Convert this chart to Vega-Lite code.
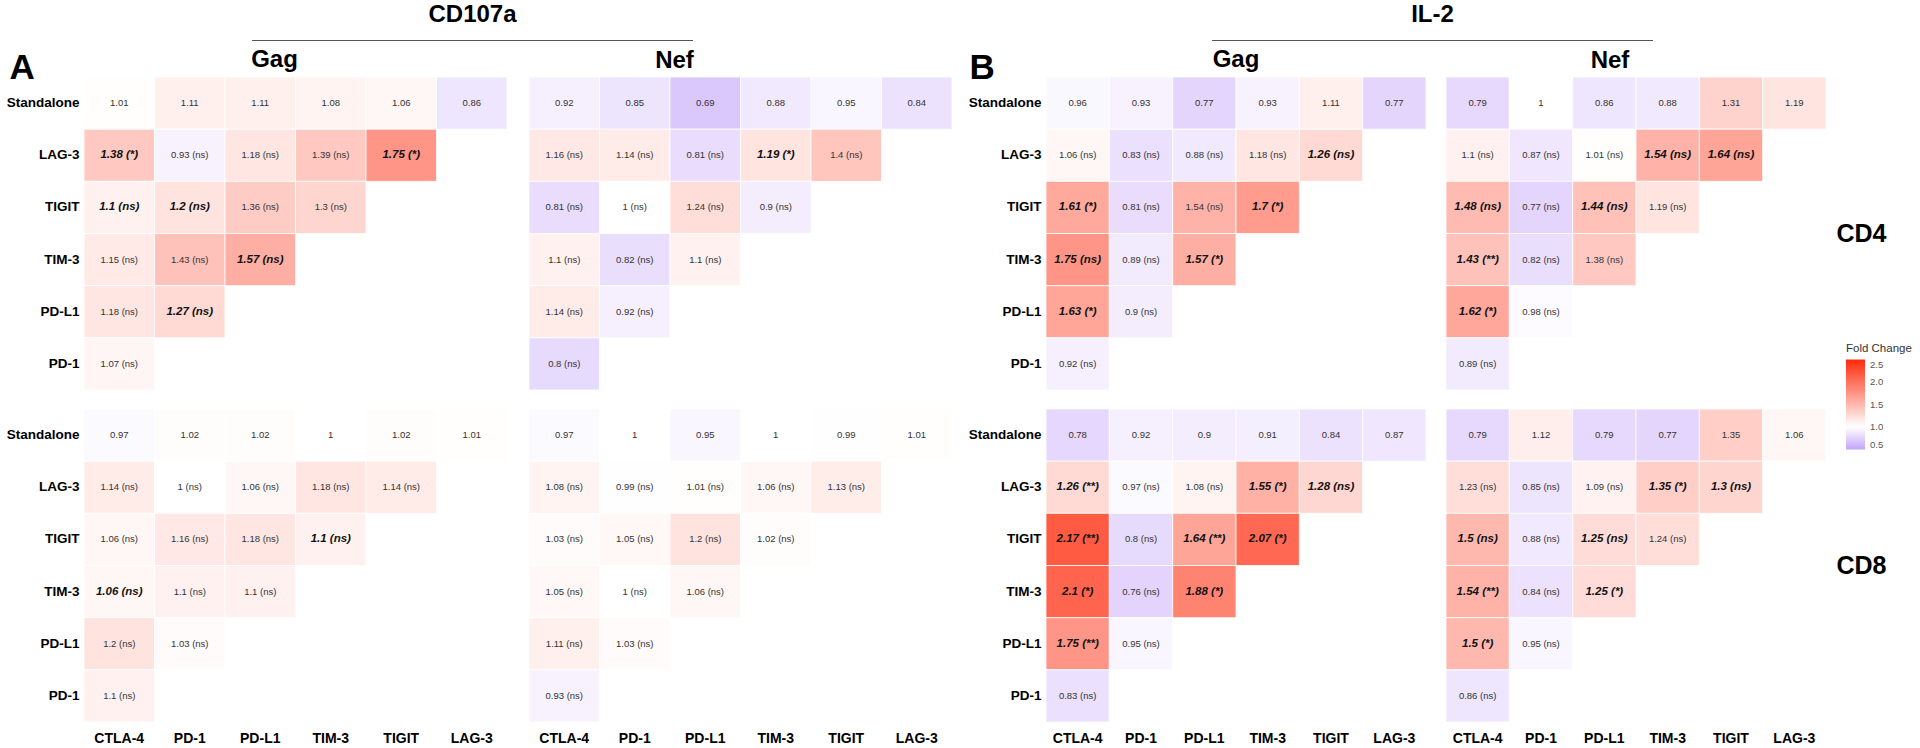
{
"$schema": "https://vega.github.io/schema/vega-lite/v6.json",
"padding": {"left": 6, "top": 2, "right": 5, "bottom": 0},
"background": "white",
"datasets": {"fc": [
{"readout":"CD107a","antigen":"Gag","subset":"CD4","row":"Standalone","col":"CTLA-4","fc":1.01,"label":"1.01","hl":false},
{"readout":"CD107a","antigen":"Gag","subset":"CD4","row":"Standalone","col":"PD-1","fc":1.11,"label":"1.11","hl":false},
{"readout":"CD107a","antigen":"Gag","subset":"CD4","row":"Standalone","col":"PD-L1","fc":1.11,"label":"1.11","hl":false},
{"readout":"CD107a","antigen":"Gag","subset":"CD4","row":"Standalone","col":"TIM-3","fc":1.08,"label":"1.08","hl":false},
{"readout":"CD107a","antigen":"Gag","subset":"CD4","row":"Standalone","col":"TIGIT","fc":1.06,"label":"1.06","hl":false},
{"readout":"CD107a","antigen":"Gag","subset":"CD4","row":"Standalone","col":"LAG-3","fc":0.86,"label":"0.86","hl":false},
{"readout":"CD107a","antigen":"Gag","subset":"CD4","row":"LAG-3","col":"CTLA-4","fc":1.38,"label":"1.38 (*)","hl":true},
{"readout":"CD107a","antigen":"Gag","subset":"CD4","row":"LAG-3","col":"PD-1","fc":0.93,"label":"0.93 (ns)","hl":false},
{"readout":"CD107a","antigen":"Gag","subset":"CD4","row":"LAG-3","col":"PD-L1","fc":1.18,"label":"1.18 (ns)","hl":false},
{"readout":"CD107a","antigen":"Gag","subset":"CD4","row":"LAG-3","col":"TIM-3","fc":1.39,"label":"1.39 (ns)","hl":false},
{"readout":"CD107a","antigen":"Gag","subset":"CD4","row":"LAG-3","col":"TIGIT","fc":1.75,"label":"1.75 (*)","hl":true},
{"readout":"CD107a","antigen":"Gag","subset":"CD4","row":"TIGIT","col":"CTLA-4","fc":1.1,"label":"1.1 (ns)","hl":true},
{"readout":"CD107a","antigen":"Gag","subset":"CD4","row":"TIGIT","col":"PD-1","fc":1.2,"label":"1.2 (ns)","hl":true},
{"readout":"CD107a","antigen":"Gag","subset":"CD4","row":"TIGIT","col":"PD-L1","fc":1.36,"label":"1.36 (ns)","hl":false},
{"readout":"CD107a","antigen":"Gag","subset":"CD4","row":"TIGIT","col":"TIM-3","fc":1.3,"label":"1.3 (ns)","hl":false},
{"readout":"CD107a","antigen":"Gag","subset":"CD4","row":"TIM-3","col":"CTLA-4","fc":1.15,"label":"1.15 (ns)","hl":false},
{"readout":"CD107a","antigen":"Gag","subset":"CD4","row":"TIM-3","col":"PD-1","fc":1.43,"label":"1.43 (ns)","hl":false},
{"readout":"CD107a","antigen":"Gag","subset":"CD4","row":"TIM-3","col":"PD-L1","fc":1.57,"label":"1.57 (ns)","hl":true},
{"readout":"CD107a","antigen":"Gag","subset":"CD4","row":"PD-L1","col":"CTLA-4","fc":1.18,"label":"1.18 (ns)","hl":false},
{"readout":"CD107a","antigen":"Gag","subset":"CD4","row":"PD-L1","col":"PD-1","fc":1.27,"label":"1.27 (ns)","hl":true},
{"readout":"CD107a","antigen":"Gag","subset":"CD4","row":"PD-1","col":"CTLA-4","fc":1.07,"label":"1.07 (ns)","hl":false},
{"readout":"CD107a","antigen":"Nef","subset":"CD4","row":"Standalone","col":"CTLA-4","fc":0.92,"label":"0.92","hl":false},
{"readout":"CD107a","antigen":"Nef","subset":"CD4","row":"Standalone","col":"PD-1","fc":0.85,"label":"0.85","hl":false},
{"readout":"CD107a","antigen":"Nef","subset":"CD4","row":"Standalone","col":"PD-L1","fc":0.69,"label":"0.69","hl":false},
{"readout":"CD107a","antigen":"Nef","subset":"CD4","row":"Standalone","col":"TIM-3","fc":0.88,"label":"0.88","hl":false},
{"readout":"CD107a","antigen":"Nef","subset":"CD4","row":"Standalone","col":"TIGIT","fc":0.95,"label":"0.95","hl":false},
{"readout":"CD107a","antigen":"Nef","subset":"CD4","row":"Standalone","col":"LAG-3","fc":0.84,"label":"0.84","hl":false},
{"readout":"CD107a","antigen":"Nef","subset":"CD4","row":"LAG-3","col":"CTLA-4","fc":1.16,"label":"1.16 (ns)","hl":false},
{"readout":"CD107a","antigen":"Nef","subset":"CD4","row":"LAG-3","col":"PD-1","fc":1.14,"label":"1.14 (ns)","hl":false},
{"readout":"CD107a","antigen":"Nef","subset":"CD4","row":"LAG-3","col":"PD-L1","fc":0.81,"label":"0.81 (ns)","hl":false},
{"readout":"CD107a","antigen":"Nef","subset":"CD4","row":"LAG-3","col":"TIM-3","fc":1.19,"label":"1.19 (*)","hl":true},
{"readout":"CD107a","antigen":"Nef","subset":"CD4","row":"LAG-3","col":"TIGIT","fc":1.4,"label":"1.4 (ns)","hl":false},
{"readout":"CD107a","antigen":"Nef","subset":"CD4","row":"TIGIT","col":"CTLA-4","fc":0.81,"label":"0.81 (ns)","hl":false},
{"readout":"CD107a","antigen":"Nef","subset":"CD4","row":"TIGIT","col":"PD-1","fc":1.0,"label":"1 (ns)","hl":false},
{"readout":"CD107a","antigen":"Nef","subset":"CD4","row":"TIGIT","col":"PD-L1","fc":1.24,"label":"1.24 (ns)","hl":false},
{"readout":"CD107a","antigen":"Nef","subset":"CD4","row":"TIGIT","col":"TIM-3","fc":0.9,"label":"0.9 (ns)","hl":false},
{"readout":"CD107a","antigen":"Nef","subset":"CD4","row":"TIM-3","col":"CTLA-4","fc":1.1,"label":"1.1 (ns)","hl":false},
{"readout":"CD107a","antigen":"Nef","subset":"CD4","row":"TIM-3","col":"PD-1","fc":0.82,"label":"0.82 (ns)","hl":false},
{"readout":"CD107a","antigen":"Nef","subset":"CD4","row":"TIM-3","col":"PD-L1","fc":1.1,"label":"1.1 (ns)","hl":false},
{"readout":"CD107a","antigen":"Nef","subset":"CD4","row":"PD-L1","col":"CTLA-4","fc":1.14,"label":"1.14 (ns)","hl":false},
{"readout":"CD107a","antigen":"Nef","subset":"CD4","row":"PD-L1","col":"PD-1","fc":0.92,"label":"0.92 (ns)","hl":false},
{"readout":"CD107a","antigen":"Nef","subset":"CD4","row":"PD-1","col":"CTLA-4","fc":0.8,"label":"0.8 (ns)","hl":false},
{"readout":"IL-2","antigen":"Gag","subset":"CD4","row":"Standalone","col":"CTLA-4","fc":0.96,"label":"0.96","hl":false},
{"readout":"IL-2","antigen":"Gag","subset":"CD4","row":"Standalone","col":"PD-1","fc":0.93,"label":"0.93","hl":false},
{"readout":"IL-2","antigen":"Gag","subset":"CD4","row":"Standalone","col":"PD-L1","fc":0.77,"label":"0.77","hl":false},
{"readout":"IL-2","antigen":"Gag","subset":"CD4","row":"Standalone","col":"TIM-3","fc":0.93,"label":"0.93","hl":false},
{"readout":"IL-2","antigen":"Gag","subset":"CD4","row":"Standalone","col":"TIGIT","fc":1.11,"label":"1.11","hl":false},
{"readout":"IL-2","antigen":"Gag","subset":"CD4","row":"Standalone","col":"LAG-3","fc":0.77,"label":"0.77","hl":false},
{"readout":"IL-2","antigen":"Gag","subset":"CD4","row":"LAG-3","col":"CTLA-4","fc":1.06,"label":"1.06 (ns)","hl":false},
{"readout":"IL-2","antigen":"Gag","subset":"CD4","row":"LAG-3","col":"PD-1","fc":0.83,"label":"0.83 (ns)","hl":false},
{"readout":"IL-2","antigen":"Gag","subset":"CD4","row":"LAG-3","col":"PD-L1","fc":0.88,"label":"0.88 (ns)","hl":false},
{"readout":"IL-2","antigen":"Gag","subset":"CD4","row":"LAG-3","col":"TIM-3","fc":1.18,"label":"1.18 (ns)","hl":false},
{"readout":"IL-2","antigen":"Gag","subset":"CD4","row":"LAG-3","col":"TIGIT","fc":1.26,"label":"1.26 (ns)","hl":true},
{"readout":"IL-2","antigen":"Gag","subset":"CD4","row":"TIGIT","col":"CTLA-4","fc":1.61,"label":"1.61 (*)","hl":true},
{"readout":"IL-2","antigen":"Gag","subset":"CD4","row":"TIGIT","col":"PD-1","fc":0.81,"label":"0.81 (ns)","hl":false},
{"readout":"IL-2","antigen":"Gag","subset":"CD4","row":"TIGIT","col":"PD-L1","fc":1.54,"label":"1.54 (ns)","hl":false},
{"readout":"IL-2","antigen":"Gag","subset":"CD4","row":"TIGIT","col":"TIM-3","fc":1.7,"label":"1.7 (*)","hl":true},
{"readout":"IL-2","antigen":"Gag","subset":"CD4","row":"TIM-3","col":"CTLA-4","fc":1.75,"label":"1.75 (ns)","hl":true},
{"readout":"IL-2","antigen":"Gag","subset":"CD4","row":"TIM-3","col":"PD-1","fc":0.89,"label":"0.89 (ns)","hl":false},
{"readout":"IL-2","antigen":"Gag","subset":"CD4","row":"TIM-3","col":"PD-L1","fc":1.57,"label":"1.57 (*)","hl":true},
{"readout":"IL-2","antigen":"Gag","subset":"CD4","row":"PD-L1","col":"CTLA-4","fc":1.63,"label":"1.63 (*)","hl":true},
{"readout":"IL-2","antigen":"Gag","subset":"CD4","row":"PD-L1","col":"PD-1","fc":0.9,"label":"0.9 (ns)","hl":false},
{"readout":"IL-2","antigen":"Gag","subset":"CD4","row":"PD-1","col":"CTLA-4","fc":0.92,"label":"0.92 (ns)","hl":false},
{"readout":"IL-2","antigen":"Nef","subset":"CD4","row":"Standalone","col":"CTLA-4","fc":0.79,"label":"0.79","hl":false},
{"readout":"IL-2","antigen":"Nef","subset":"CD4","row":"Standalone","col":"PD-1","fc":1.0,"label":"1","hl":false},
{"readout":"IL-2","antigen":"Nef","subset":"CD4","row":"Standalone","col":"PD-L1","fc":0.86,"label":"0.86","hl":false},
{"readout":"IL-2","antigen":"Nef","subset":"CD4","row":"Standalone","col":"TIM-3","fc":0.88,"label":"0.88","hl":false},
{"readout":"IL-2","antigen":"Nef","subset":"CD4","row":"Standalone","col":"TIGIT","fc":1.31,"label":"1.31","hl":false},
{"readout":"IL-2","antigen":"Nef","subset":"CD4","row":"Standalone","col":"LAG-3","fc":1.19,"label":"1.19","hl":false},
{"readout":"IL-2","antigen":"Nef","subset":"CD4","row":"LAG-3","col":"CTLA-4","fc":1.1,"label":"1.1 (ns)","hl":false},
{"readout":"IL-2","antigen":"Nef","subset":"CD4","row":"LAG-3","col":"PD-1","fc":0.87,"label":"0.87 (ns)","hl":false},
{"readout":"IL-2","antigen":"Nef","subset":"CD4","row":"LAG-3","col":"PD-L1","fc":1.01,"label":"1.01 (ns)","hl":false},
{"readout":"IL-2","antigen":"Nef","subset":"CD4","row":"LAG-3","col":"TIM-3","fc":1.54,"label":"1.54 (ns)","hl":true},
{"readout":"IL-2","antigen":"Nef","subset":"CD4","row":"LAG-3","col":"TIGIT","fc":1.64,"label":"1.64 (ns)","hl":true},
{"readout":"IL-2","antigen":"Nef","subset":"CD4","row":"TIGIT","col":"CTLA-4","fc":1.48,"label":"1.48 (ns)","hl":true},
{"readout":"IL-2","antigen":"Nef","subset":"CD4","row":"TIGIT","col":"PD-1","fc":0.77,"label":"0.77 (ns)","hl":false},
{"readout":"IL-2","antigen":"Nef","subset":"CD4","row":"TIGIT","col":"PD-L1","fc":1.44,"label":"1.44 (ns)","hl":true},
{"readout":"IL-2","antigen":"Nef","subset":"CD4","row":"TIGIT","col":"TIM-3","fc":1.19,"label":"1.19 (ns)","hl":false},
{"readout":"IL-2","antigen":"Nef","subset":"CD4","row":"TIM-3","col":"CTLA-4","fc":1.43,"label":"1.43 (**)","hl":true},
{"readout":"IL-2","antigen":"Nef","subset":"CD4","row":"TIM-3","col":"PD-1","fc":0.82,"label":"0.82 (ns)","hl":false},
{"readout":"IL-2","antigen":"Nef","subset":"CD4","row":"TIM-3","col":"PD-L1","fc":1.38,"label":"1.38 (ns)","hl":false},
{"readout":"IL-2","antigen":"Nef","subset":"CD4","row":"PD-L1","col":"CTLA-4","fc":1.62,"label":"1.62 (*)","hl":true},
{"readout":"IL-2","antigen":"Nef","subset":"CD4","row":"PD-L1","col":"PD-1","fc":0.98,"label":"0.98 (ns)","hl":false},
{"readout":"IL-2","antigen":"Nef","subset":"CD4","row":"PD-1","col":"CTLA-4","fc":0.89,"label":"0.89 (ns)","hl":false},
{"readout":"CD107a","antigen":"Gag","subset":"CD8","row":"Standalone","col":"CTLA-4","fc":0.97,"label":"0.97","hl":false},
{"readout":"CD107a","antigen":"Gag","subset":"CD8","row":"Standalone","col":"PD-1","fc":1.02,"label":"1.02","hl":false},
{"readout":"CD107a","antigen":"Gag","subset":"CD8","row":"Standalone","col":"PD-L1","fc":1.02,"label":"1.02","hl":false},
{"readout":"CD107a","antigen":"Gag","subset":"CD8","row":"Standalone","col":"TIM-3","fc":1.0,"label":"1","hl":false},
{"readout":"CD107a","antigen":"Gag","subset":"CD8","row":"Standalone","col":"TIGIT","fc":1.02,"label":"1.02","hl":false},
{"readout":"CD107a","antigen":"Gag","subset":"CD8","row":"Standalone","col":"LAG-3","fc":1.01,"label":"1.01","hl":false},
{"readout":"CD107a","antigen":"Gag","subset":"CD8","row":"LAG-3","col":"CTLA-4","fc":1.14,"label":"1.14 (ns)","hl":false},
{"readout":"CD107a","antigen":"Gag","subset":"CD8","row":"LAG-3","col":"PD-1","fc":1.0,"label":"1 (ns)","hl":false},
{"readout":"CD107a","antigen":"Gag","subset":"CD8","row":"LAG-3","col":"PD-L1","fc":1.06,"label":"1.06 (ns)","hl":false},
{"readout":"CD107a","antigen":"Gag","subset":"CD8","row":"LAG-3","col":"TIM-3","fc":1.18,"label":"1.18 (ns)","hl":false},
{"readout":"CD107a","antigen":"Gag","subset":"CD8","row":"LAG-3","col":"TIGIT","fc":1.14,"label":"1.14 (ns)","hl":false},
{"readout":"CD107a","antigen":"Gag","subset":"CD8","row":"TIGIT","col":"CTLA-4","fc":1.06,"label":"1.06 (ns)","hl":false},
{"readout":"CD107a","antigen":"Gag","subset":"CD8","row":"TIGIT","col":"PD-1","fc":1.16,"label":"1.16 (ns)","hl":false},
{"readout":"CD107a","antigen":"Gag","subset":"CD8","row":"TIGIT","col":"PD-L1","fc":1.18,"label":"1.18 (ns)","hl":false},
{"readout":"CD107a","antigen":"Gag","subset":"CD8","row":"TIGIT","col":"TIM-3","fc":1.1,"label":"1.1 (ns)","hl":true},
{"readout":"CD107a","antigen":"Gag","subset":"CD8","row":"TIM-3","col":"CTLA-4","fc":1.06,"label":"1.06 (ns)","hl":true},
{"readout":"CD107a","antigen":"Gag","subset":"CD8","row":"TIM-3","col":"PD-1","fc":1.1,"label":"1.1 (ns)","hl":false},
{"readout":"CD107a","antigen":"Gag","subset":"CD8","row":"TIM-3","col":"PD-L1","fc":1.1,"label":"1.1 (ns)","hl":false},
{"readout":"CD107a","antigen":"Gag","subset":"CD8","row":"PD-L1","col":"CTLA-4","fc":1.2,"label":"1.2 (ns)","hl":false},
{"readout":"CD107a","antigen":"Gag","subset":"CD8","row":"PD-L1","col":"PD-1","fc":1.03,"label":"1.03 (ns)","hl":false},
{"readout":"CD107a","antigen":"Gag","subset":"CD8","row":"PD-1","col":"CTLA-4","fc":1.1,"label":"1.1 (ns)","hl":false},
{"readout":"CD107a","antigen":"Nef","subset":"CD8","row":"Standalone","col":"CTLA-4","fc":0.97,"label":"0.97","hl":false},
{"readout":"CD107a","antigen":"Nef","subset":"CD8","row":"Standalone","col":"PD-1","fc":1.0,"label":"1","hl":false},
{"readout":"CD107a","antigen":"Nef","subset":"CD8","row":"Standalone","col":"PD-L1","fc":0.95,"label":"0.95","hl":false},
{"readout":"CD107a","antigen":"Nef","subset":"CD8","row":"Standalone","col":"TIM-3","fc":1.0,"label":"1","hl":false},
{"readout":"CD107a","antigen":"Nef","subset":"CD8","row":"Standalone","col":"TIGIT","fc":0.99,"label":"0.99","hl":false},
{"readout":"CD107a","antigen":"Nef","subset":"CD8","row":"Standalone","col":"LAG-3","fc":1.01,"label":"1.01","hl":false},
{"readout":"CD107a","antigen":"Nef","subset":"CD8","row":"LAG-3","col":"CTLA-4","fc":1.08,"label":"1.08 (ns)","hl":false},
{"readout":"CD107a","antigen":"Nef","subset":"CD8","row":"LAG-3","col":"PD-1","fc":0.99,"label":"0.99 (ns)","hl":false},
{"readout":"CD107a","antigen":"Nef","subset":"CD8","row":"LAG-3","col":"PD-L1","fc":1.01,"label":"1.01 (ns)","hl":false},
{"readout":"CD107a","antigen":"Nef","subset":"CD8","row":"LAG-3","col":"TIM-3","fc":1.06,"label":"1.06 (ns)","hl":false},
{"readout":"CD107a","antigen":"Nef","subset":"CD8","row":"LAG-3","col":"TIGIT","fc":1.13,"label":"1.13 (ns)","hl":false},
{"readout":"CD107a","antigen":"Nef","subset":"CD8","row":"TIGIT","col":"CTLA-4","fc":1.03,"label":"1.03 (ns)","hl":false},
{"readout":"CD107a","antigen":"Nef","subset":"CD8","row":"TIGIT","col":"PD-1","fc":1.05,"label":"1.05 (ns)","hl":false},
{"readout":"CD107a","antigen":"Nef","subset":"CD8","row":"TIGIT","col":"PD-L1","fc":1.2,"label":"1.2 (ns)","hl":false},
{"readout":"CD107a","antigen":"Nef","subset":"CD8","row":"TIGIT","col":"TIM-3","fc":1.02,"label":"1.02 (ns)","hl":false},
{"readout":"CD107a","antigen":"Nef","subset":"CD8","row":"TIM-3","col":"CTLA-4","fc":1.05,"label":"1.05 (ns)","hl":false},
{"readout":"CD107a","antigen":"Nef","subset":"CD8","row":"TIM-3","col":"PD-1","fc":1.0,"label":"1 (ns)","hl":false},
{"readout":"CD107a","antigen":"Nef","subset":"CD8","row":"TIM-3","col":"PD-L1","fc":1.06,"label":"1.06 (ns)","hl":false},
{"readout":"CD107a","antigen":"Nef","subset":"CD8","row":"PD-L1","col":"CTLA-4","fc":1.11,"label":"1.11 (ns)","hl":false},
{"readout":"CD107a","antigen":"Nef","subset":"CD8","row":"PD-L1","col":"PD-1","fc":1.03,"label":"1.03 (ns)","hl":false},
{"readout":"CD107a","antigen":"Nef","subset":"CD8","row":"PD-1","col":"CTLA-4","fc":0.93,"label":"0.93 (ns)","hl":false},
{"readout":"IL-2","antigen":"Gag","subset":"CD8","row":"Standalone","col":"CTLA-4","fc":0.78,"label":"0.78","hl":false},
{"readout":"IL-2","antigen":"Gag","subset":"CD8","row":"Standalone","col":"PD-1","fc":0.92,"label":"0.92","hl":false},
{"readout":"IL-2","antigen":"Gag","subset":"CD8","row":"Standalone","col":"PD-L1","fc":0.9,"label":"0.9","hl":false},
{"readout":"IL-2","antigen":"Gag","subset":"CD8","row":"Standalone","col":"TIM-3","fc":0.91,"label":"0.91","hl":false},
{"readout":"IL-2","antigen":"Gag","subset":"CD8","row":"Standalone","col":"TIGIT","fc":0.84,"label":"0.84","hl":false},
{"readout":"IL-2","antigen":"Gag","subset":"CD8","row":"Standalone","col":"LAG-3","fc":0.87,"label":"0.87","hl":false},
{"readout":"IL-2","antigen":"Gag","subset":"CD8","row":"LAG-3","col":"CTLA-4","fc":1.26,"label":"1.26 (**)","hl":true},
{"readout":"IL-2","antigen":"Gag","subset":"CD8","row":"LAG-3","col":"PD-1","fc":0.97,"label":"0.97 (ns)","hl":false},
{"readout":"IL-2","antigen":"Gag","subset":"CD8","row":"LAG-3","col":"PD-L1","fc":1.08,"label":"1.08 (ns)","hl":false},
{"readout":"IL-2","antigen":"Gag","subset":"CD8","row":"LAG-3","col":"TIM-3","fc":1.55,"label":"1.55 (*)","hl":true},
{"readout":"IL-2","antigen":"Gag","subset":"CD8","row":"LAG-3","col":"TIGIT","fc":1.28,"label":"1.28 (ns)","hl":true},
{"readout":"IL-2","antigen":"Gag","subset":"CD8","row":"TIGIT","col":"CTLA-4","fc":2.17,"label":"2.17 (**)","hl":true},
{"readout":"IL-2","antigen":"Gag","subset":"CD8","row":"TIGIT","col":"PD-1","fc":0.8,"label":"0.8 (ns)","hl":false},
{"readout":"IL-2","antigen":"Gag","subset":"CD8","row":"TIGIT","col":"PD-L1","fc":1.64,"label":"1.64 (**)","hl":true},
{"readout":"IL-2","antigen":"Gag","subset":"CD8","row":"TIGIT","col":"TIM-3","fc":2.07,"label":"2.07 (*)","hl":true},
{"readout":"IL-2","antigen":"Gag","subset":"CD8","row":"TIM-3","col":"CTLA-4","fc":2.1,"label":"2.1 (*)","hl":true},
{"readout":"IL-2","antigen":"Gag","subset":"CD8","row":"TIM-3","col":"PD-1","fc":0.76,"label":"0.76 (ns)","hl":false},
{"readout":"IL-2","antigen":"Gag","subset":"CD8","row":"TIM-3","col":"PD-L1","fc":1.88,"label":"1.88 (*)","hl":true},
{"readout":"IL-2","antigen":"Gag","subset":"CD8","row":"PD-L1","col":"CTLA-4","fc":1.75,"label":"1.75 (**)","hl":true},
{"readout":"IL-2","antigen":"Gag","subset":"CD8","row":"PD-L1","col":"PD-1","fc":0.95,"label":"0.95 (ns)","hl":false},
{"readout":"IL-2","antigen":"Gag","subset":"CD8","row":"PD-1","col":"CTLA-4","fc":0.83,"label":"0.83 (ns)","hl":false},
{"readout":"IL-2","antigen":"Nef","subset":"CD8","row":"Standalone","col":"CTLA-4","fc":0.79,"label":"0.79","hl":false},
{"readout":"IL-2","antigen":"Nef","subset":"CD8","row":"Standalone","col":"PD-1","fc":1.12,"label":"1.12","hl":false},
{"readout":"IL-2","antigen":"Nef","subset":"CD8","row":"Standalone","col":"PD-L1","fc":0.79,"label":"0.79","hl":false},
{"readout":"IL-2","antigen":"Nef","subset":"CD8","row":"Standalone","col":"TIM-3","fc":0.77,"label":"0.77","hl":false},
{"readout":"IL-2","antigen":"Nef","subset":"CD8","row":"Standalone","col":"TIGIT","fc":1.35,"label":"1.35","hl":false},
{"readout":"IL-2","antigen":"Nef","subset":"CD8","row":"Standalone","col":"LAG-3","fc":1.06,"label":"1.06","hl":false},
{"readout":"IL-2","antigen":"Nef","subset":"CD8","row":"LAG-3","col":"CTLA-4","fc":1.23,"label":"1.23 (ns)","hl":false},
{"readout":"IL-2","antigen":"Nef","subset":"CD8","row":"LAG-3","col":"PD-1","fc":0.85,"label":"0.85 (ns)","hl":false},
{"readout":"IL-2","antigen":"Nef","subset":"CD8","row":"LAG-3","col":"PD-L1","fc":1.09,"label":"1.09 (ns)","hl":false},
{"readout":"IL-2","antigen":"Nef","subset":"CD8","row":"LAG-3","col":"TIM-3","fc":1.35,"label":"1.35 (*)","hl":true},
{"readout":"IL-2","antigen":"Nef","subset":"CD8","row":"LAG-3","col":"TIGIT","fc":1.3,"label":"1.3 (ns)","hl":true},
{"readout":"IL-2","antigen":"Nef","subset":"CD8","row":"TIGIT","col":"CTLA-4","fc":1.5,"label":"1.5 (ns)","hl":true},
{"readout":"IL-2","antigen":"Nef","subset":"CD8","row":"TIGIT","col":"PD-1","fc":0.88,"label":"0.88 (ns)","hl":false},
{"readout":"IL-2","antigen":"Nef","subset":"CD8","row":"TIGIT","col":"PD-L1","fc":1.25,"label":"1.25 (ns)","hl":true},
{"readout":"IL-2","antigen":"Nef","subset":"CD8","row":"TIGIT","col":"TIM-3","fc":1.24,"label":"1.24 (ns)","hl":false},
{"readout":"IL-2","antigen":"Nef","subset":"CD8","row":"TIM-3","col":"CTLA-4","fc":1.54,"label":"1.54 (**)","hl":true},
{"readout":"IL-2","antigen":"Nef","subset":"CD8","row":"TIM-3","col":"PD-1","fc":0.84,"label":"0.84 (ns)","hl":false},
{"readout":"IL-2","antigen":"Nef","subset":"CD8","row":"TIM-3","col":"PD-L1","fc":1.25,"label":"1.25 (*)","hl":true},
{"readout":"IL-2","antigen":"Nef","subset":"CD8","row":"PD-L1","col":"CTLA-4","fc":1.5,"label":"1.5 (*)","hl":true},
{"readout":"IL-2","antigen":"Nef","subset":"CD8","row":"PD-L1","col":"PD-1","fc":0.95,"label":"0.95 (ns)","hl":false},
{"readout":"IL-2","antigen":"Nef","subset":"CD8","row":"PD-1","col":"CTLA-4","fc":0.86,"label":"0.86 (ns)","hl":false}
]},
"spacing": 6,
"resolve": {"scale": {"color": "shared"}, "legend": {"color": "shared"}},
"vconcat": [
 {"hconcat": [
   {"width": 168, "height": 1, "data": {"values": []}, "mark": "point", "encoding": {}},
   {"width": 441, "height": 1, "view": {"fill": "#555555", "stroke": null},
    "data": {"values": [{"readout": "CD107a"}]},
    "mark": {"type": "text", "fontSize": 24, "fontWeight": "bold", "baseline": "alphabetic", "dy": -19, "color": "#000"},
    "encoding": {"text": {"field": "readout"}}},
   {"width": 519, "height": 1, "data": {"values": []}, "mark": "point", "encoding": {}},
   {"width": 441, "height": 1, "view": {"fill": "#555555", "stroke": null},
    "data": {"values": [{"readout": "IL-2"}]},
    "mark": {"type": "text", "fontSize": 24, "fontWeight": "bold", "baseline": "alphabetic", "dy": -19, "color": "#000"},
    "encoding": {"text": {"field": "readout"}}}
 ], "spacing": 0},
 {"hconcat": [
  {"hconcat": [
     {"vconcat": [
       {"width": 423, "height": 313, "data": {"name": "fc"},
        "title": {"text": "Gag", "dx": -21, "offset": -21.5},
        "transform": [{"filter": "datum.readout === 'CD107a' && datum.antigen === 'Gag' && datum.subset === 'CD4'"}],
        "encoding": {
          "x": {"field": "col", "type": "nominal", "scale": {"domain": ["CTLA-4","PD-1","PD-L1","TIM-3","TIGIT","LAG-3"], "paddingInner": 0, "paddingOuter": 0}, "axis": null},
          "y": {"field": "row", "type": "nominal", "scale": {"domain": ["Standalone","LAG-3","TIGIT","TIM-3","PD-L1","PD-1"], "paddingInner": 0, "paddingOuter": 0},
                "axis": {"labelFontSize": 13.5, "labelPadding": 5, "title": "A", "titleAngle": 0, "titleX": -75, "titleY": 1, "titleAlign": "left", "titleBaseline": "alphabetic", "titleFontSize": 35, "titleFontWeight": "bold", "titleColor": "#000"}}},
        "layer": [
          {"mark": {"type": "rect", "stroke": "white", "strokeWidth": 0.8},
           "encoding": {"color": {"field": "fc", "type": "quantitative", "title": "Fold Change",
              "scale": {"domain": [0.5, 2.5], "domainMid": 1, "range": ["#c4a4fa", "#ffffff", "#ff2b0d"], "interpolate": "rgb"},
              "legend": {"orient": "none", "legendX": 1762, "legendY": 303, "direction": "vertical", "gradientLength": 90, "gradientThickness": 19, "values": [0.5, 1, 1.5, 2, 2.5], "format": ".1f", "titleFontSize": 11.5, "titleFontWeight": "normal", "titleColor": "#333", "labelFontSize": 9.5, "labelColor": "#555", "labelBaseline": "middle", "titlePadding": 5, "labelOffset": 5, "gradientStrokeWidth": 0}}}},
          {"transform": [{"filter": "!datum.hl"}], "mark": {"type": "text", "fontSize": 9.5, "color": "#333"}, "encoding": {"text": {"field": "label"}}},
          {"transform": [{"filter": "datum.hl"}], "mark": {"type": "text", "fontSize": 11.5, "fontWeight": "bold", "fontStyle": "italic", "color": "#111"}, "encoding": {"text": {"field": "label"}}}
        ]},
       {"width": 423, "height": 313, "data": {"name": "fc"},
        "transform": [{"filter": "datum.readout === 'CD107a' && datum.antigen === 'Gag' && datum.subset === 'CD8'"}],
        "encoding": {
          "x": {"field": "col", "type": "nominal", "scale": {"domain": ["CTLA-4","PD-1","PD-L1","TIM-3","TIGIT","LAG-3"], "paddingInner": 0, "paddingOuter": 0}, "axis": {"labelAngle": 0, "labelPadding": 9, "labelFontSize": 14, "title": null}},
          "y": {"field": "row", "type": "nominal", "scale": {"domain": ["Standalone","LAG-3","TIGIT","TIM-3","PD-L1","PD-1"], "paddingInner": 0, "paddingOuter": 0}, "axis": {"labelFontSize": 13.5, "labelPadding": 5, "title": null}}},
        "layer": [
          {"mark": {"type": "rect", "stroke": "white", "strokeWidth": 0.8}, "encoding": {"color": {"field": "fc", "type": "quantitative", "title": "Fold Change", "scale": {"domain": [0.5, 2.5], "domainMid": 1, "range": ["#c4a4fa", "#ffffff", "#ff2b0d"], "interpolate": "rgb"}}}},
          {"transform": [{"filter": "!datum.hl"}], "mark": {"type": "text", "fontSize": 9.5, "color": "#333"}, "encoding": {"text": {"field": "label"}}},
          {"transform": [{"filter": "datum.hl"}], "mark": {"type": "text", "fontSize": 11.5, "fontWeight": "bold", "fontStyle": "italic", "color": "#111"}, "encoding": {"text": {"field": "label"}}}
        ]}
     ], "spacing": 17},
     {"vconcat": [
       {"width": 423, "height": 313, "data": {"name": "fc"},
        "title": {"text": "Nef", "dx": -66, "offset": 4},
        "transform": [{"filter": "datum.readout === 'CD107a' && datum.antigen === 'Nef' && datum.subset === 'CD4'"}],
        "encoding": {
          "x": {"field": "col", "type": "nominal", "scale": {"domain": ["CTLA-4","PD-1","PD-L1","TIM-3","TIGIT","LAG-3"], "paddingInner": 0, "paddingOuter": 0}, "axis": null},
          "y": {"field": "row", "type": "nominal", "scale": {"domain": ["Standalone","LAG-3","TIGIT","TIM-3","PD-L1","PD-1"], "paddingInner": 0, "paddingOuter": 0}, "axis": null}},
        "layer": [
          {"mark": {"type": "rect", "stroke": "white", "strokeWidth": 0.8}, "encoding": {"color": {"field": "fc", "type": "quantitative", "title": "Fold Change", "scale": {"domain": [0.5, 2.5], "domainMid": 1, "range": ["#c4a4fa", "#ffffff", "#ff2b0d"], "interpolate": "rgb"}}}},
          {"transform": [{"filter": "!datum.hl"}], "mark": {"type": "text", "fontSize": 9.5, "color": "#333"}, "encoding": {"text": {"field": "label"}}},
          {"transform": [{"filter": "datum.hl"}], "mark": {"type": "text", "fontSize": 11.5, "fontWeight": "bold", "fontStyle": "italic", "color": "#111"}, "encoding": {"text": {"field": "label"}}}
        ]},
       {"width": 423, "height": 313, "data": {"name": "fc"},
        "transform": [{"filter": "datum.readout === 'CD107a' && datum.antigen === 'Nef' && datum.subset === 'CD8'"}],
        "encoding": {
          "x": {"field": "col", "type": "nominal", "scale": {"domain": ["CTLA-4","PD-1","PD-L1","TIM-3","TIGIT","LAG-3"], "paddingInner": 0, "paddingOuter": 0}, "axis": {"labelAngle": 0, "labelPadding": 9, "labelFontSize": 14, "title": null}},
          "y": {"field": "row", "type": "nominal", "scale": {"domain": ["Standalone","LAG-3","TIGIT","TIM-3","PD-L1","PD-1"], "paddingInner": 0, "paddingOuter": 0}, "axis": null}},
        "layer": [
          {"mark": {"type": "rect", "stroke": "white", "strokeWidth": 0.8}, "encoding": {"color": {"field": "fc", "type": "quantitative", "title": "Fold Change", "scale": {"domain": [0.5, 2.5], "domainMid": 1, "range": ["#c4a4fa", "#ffffff", "#ff2b0d"], "interpolate": "rgb"}}}},
          {"transform": [{"filter": "!datum.hl"}], "mark": {"type": "text", "fontSize": 9.5, "color": "#333"}, "encoding": {"text": {"field": "label"}}},
          {"transform": [{"filter": "datum.hl"}], "mark": {"type": "text", "fontSize": 11.5, "fontWeight": "bold", "fontStyle": "italic", "color": "#111"}, "encoding": {"text": {"field": "label"}}}
        ]}
     ], "spacing": 17}
  ], "spacing": 20},
  {"hconcat": [
     {"vconcat": [
       {"width": 380, "height": 313, "data": {"name": "fc"},
        "title": {"text": "Gag", "dx": 0, "offset": -21.5},
        "transform": [{"filter": "datum.readout === 'IL-2' && datum.antigen === 'Gag' && datum.subset === 'CD4'"}],
        "encoding": {
          "x": {"field": "col", "type": "nominal", "scale": {"domain": ["CTLA-4","PD-1","PD-L1","TIM-3","TIGIT","LAG-3"], "paddingInner": 0, "paddingOuter": 0}, "axis": null},
          "y": {"field": "row", "type": "nominal", "scale": {"domain": ["Standalone","LAG-3","TIGIT","TIM-3","PD-L1","PD-1"], "paddingInner": 0, "paddingOuter": 0},
                "axis": {"labelFontSize": 13.5, "labelPadding": 5, "title": "B", "titleAngle": 0, "titleX": -77, "titleY": 1, "titleAlign": "left", "titleBaseline": "alphabetic", "titleFontSize": 35, "titleFontWeight": "bold", "titleColor": "#000"}}},
        "layer": [
          {"mark": {"type": "rect", "stroke": "white", "strokeWidth": 0.8}, "encoding": {"color": {"field": "fc", "type": "quantitative", "title": "Fold Change", "scale": {"domain": [0.5, 2.5], "domainMid": 1, "range": ["#c4a4fa", "#ffffff", "#ff2b0d"], "interpolate": "rgb"}}}},
          {"transform": [{"filter": "!datum.hl"}], "mark": {"type": "text", "fontSize": 9.5, "color": "#333"}, "encoding": {"text": {"field": "label"}}},
          {"transform": [{"filter": "datum.hl"}], "mark": {"type": "text", "fontSize": 11.5, "fontWeight": "bold", "fontStyle": "italic", "color": "#111"}, "encoding": {"text": {"field": "label"}}}
        ]},
       {"width": 380, "height": 313, "data": {"name": "fc"},
        "transform": [{"filter": "datum.readout === 'IL-2' && datum.antigen === 'Gag' && datum.subset === 'CD8'"}],
        "encoding": {
          "x": {"field": "col", "type": "nominal", "scale": {"domain": ["CTLA-4","PD-1","PD-L1","TIM-3","TIGIT","LAG-3"], "paddingInner": 0, "paddingOuter": 0}, "axis": {"labelAngle": 0, "labelPadding": 9, "labelFontSize": 14, "title": null}},
          "y": {"field": "row", "type": "nominal", "scale": {"domain": ["Standalone","LAG-3","TIGIT","TIM-3","PD-L1","PD-1"], "paddingInner": 0, "paddingOuter": 0}, "axis": {"labelFontSize": 13.5, "labelPadding": 5, "title": null}}},
        "layer": [
          {"mark": {"type": "rect", "stroke": "white", "strokeWidth": 0.8}, "encoding": {"color": {"field": "fc", "type": "quantitative", "title": "Fold Change", "scale": {"domain": [0.5, 2.5], "domainMid": 1, "range": ["#c4a4fa", "#ffffff", "#ff2b0d"], "interpolate": "rgb"}}}},
          {"transform": [{"filter": "!datum.hl"}], "mark": {"type": "text", "fontSize": 9.5, "color": "#333"}, "encoding": {"text": {"field": "label"}}},
          {"transform": [{"filter": "datum.hl"}], "mark": {"type": "text", "fontSize": 11.5, "fontWeight": "bold", "fontStyle": "italic", "color": "#111"}, "encoding": {"text": {"field": "label"}}}
        ]}
     ], "spacing": 17},
     {"vconcat": [
       {"width": 380, "height": 313, "data": {"name": "fc"},
        "title": {"text": "Nef", "dx": -26, "offset": 4},
        "transform": [{"filter": "datum.readout === 'IL-2' && datum.antigen === 'Nef' && datum.subset === 'CD4'"}],
        "encoding": {
          "x": {"field": "col", "type": "nominal", "scale": {"domain": ["CTLA-4","PD-1","PD-L1","TIM-3","TIGIT","LAG-3"], "paddingInner": 0, "paddingOuter": 0}, "axis": null},
          "y": {"field": "row", "type": "nominal", "scale": {"domain": ["Standalone","LAG-3","TIGIT","TIM-3","PD-L1","PD-1"], "paddingInner": 0, "paddingOuter": 0},
                "axis": {"orient": "right", "labels": false, "title": "CD4", "titleAngle": 0, "titleAlign": "left", "titleBaseline": "middle", "titlePadding": 10, "titleFontSize": 25, "titleFontWeight": "bold", "titleColor": "#000"}}},
        "layer": [
          {"mark": {"type": "rect", "stroke": "white", "strokeWidth": 0.8}, "encoding": {"color": {"field": "fc", "type": "quantitative", "title": "Fold Change", "scale": {"domain": [0.5, 2.5], "domainMid": 1, "range": ["#c4a4fa", "#ffffff", "#ff2b0d"], "interpolate": "rgb"}}}},
          {"transform": [{"filter": "!datum.hl"}], "mark": {"type": "text", "fontSize": 9.5, "color": "#333"}, "encoding": {"text": {"field": "label"}}},
          {"transform": [{"filter": "datum.hl"}], "mark": {"type": "text", "fontSize": 11.5, "fontWeight": "bold", "fontStyle": "italic", "color": "#111"}, "encoding": {"text": {"field": "label"}}}
        ]},
       {"width": 380, "height": 313, "data": {"name": "fc"},
        "transform": [{"filter": "datum.readout === 'IL-2' && datum.antigen === 'Nef' && datum.subset === 'CD8'"}],
        "encoding": {
          "x": {"field": "col", "type": "nominal", "scale": {"domain": ["CTLA-4","PD-1","PD-L1","TIM-3","TIGIT","LAG-3"], "paddingInner": 0, "paddingOuter": 0}, "axis": {"labelAngle": 0, "labelPadding": 9, "labelFontSize": 14, "title": null}},
          "y": {"field": "row", "type": "nominal", "scale": {"domain": ["Standalone","LAG-3","TIGIT","TIM-3","PD-L1","PD-1"], "paddingInner": 0, "paddingOuter": 0},
                "axis": {"orient": "right", "labels": false, "title": "CD8", "titleAngle": 0, "titleAlign": "left", "titleBaseline": "middle", "titlePadding": 10, "titleFontSize": 25, "titleFontWeight": "bold", "titleColor": "#000"}}},
        "layer": [
          {"mark": {"type": "rect", "stroke": "white", "strokeWidth": 0.8}, "encoding": {"color": {"field": "fc", "type": "quantitative", "title": "Fold Change", "scale": {"domain": [0.5, 2.5], "domainMid": 1, "range": ["#c4a4fa", "#ffffff", "#ff2b0d"], "interpolate": "rgb"}}}},
          {"transform": [{"filter": "!datum.hl"}], "mark": {"type": "text", "fontSize": 9.5, "color": "#333"}, "encoding": {"text": {"field": "label"}}},
          {"transform": [{"filter": "datum.hl"}], "mark": {"type": "text", "fontSize": 11.5, "fontWeight": "bold", "fontStyle": "italic", "color": "#111"}, "encoding": {"text": {"field": "label"}}}
        ]}
     ], "spacing": 17}
  ], "spacing": 18}
 ], "spacing": 15}
],
"config": {
  "view": {"stroke": null},
  "font": "Liberation Sans",
  "axis": {"domain": false, "ticks": false, "grid": false, "labelFontWeight": "bold", "labelColor": "#000", "labelFont": "Liberation Sans", "titleFont": "Liberation Sans"},
  "title": {"fontSize": 24, "fontWeight": "bold", "color": "#000", "anchor": "middle", "frame": "group", "baseline": "alphabetic", "font": "Liberation Sans"},
  "text": {"font": "Liberation Sans"},
  "legend": {"titleFont": "Liberation Sans", "labelFont": "Liberation Sans"}
}
}
